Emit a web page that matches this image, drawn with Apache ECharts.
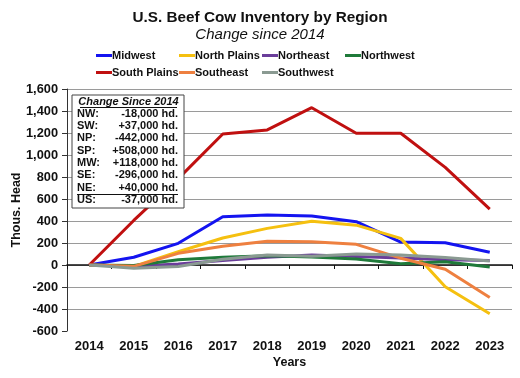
<!DOCTYPE html>
<html>
<head>
<meta charset="utf-8">
<script src="https://cdn.jsdelivr.net/npm/echarts@6/dist/echarts.min.js"></script>
<style>html,body{margin:0;padding:0;background:#fff;}#c{width:520px;height:378px;}</style>
</head>
<body>
<div id="c"></div>
<script>
var years = ['2014','2015','2016','2017','2018','2019','2020','2021','2022','2023'];
var midwest      = [0, 70, 197, 439, 455, 445, 394, 208, 203, 116];
var northPlains  = [0, -12, 120, 245, 333, 398, 362, 242, -197, -443];
var northeast    = [0, -12, 10, 40, 70, 91, 78, 63, 48, 40];
var northwest    = [0, -5, 48, 70, 85, 72, 55, 12, 30, -18];
var southPlains  = [0, 405, 785, 1191, 1228, 1430, 1198, 1198, 888, 508];
var southeast    = [0, -12, 106, 170, 216, 212, 188, 62, -39, -296];
var southwest    = [0, -30, -14, 52, 90, 80, 100, 90, 68, 37];
var yTicks = { min: -600, max: 1600, step: 200 };
var boxTitle = 'Change Since 2014';
var boxKeys = ['NW:', 'SW:', 'NP:', 'SP:', 'MW:', 'SE:', 'NE:', 'US:'];
var boxVals = ['-18,000 hd.', '+37,000 hd.', '-442,000 hd.', '+508,000 hd.', '+118,000 hd.', '-296,000 hd.', '+40,000 hd.', '-37,000 hd.'];

var FONT = 'Arial, "Liberation Sans", sans-serif';
var names = ['Midwest','North Plains','Northeast','Northwest','South Plains','Southeast','Southwest'];
var datas = [midwest, northPlains, northeast, northwest, southPlains, southeast, southwest];
var colors = ['#1414f0','#f5c010','#6a3d9a','#1f7a3a','#c01010','#ee8040','#8a9a92'];
var legendPos = [[96,50],[179,50],[262,50],[345,50],[96,67],[179,67],[262,67]];

var series = names.map(function(n,i){
  return {
    name: n, type: 'line', data: datas[i], xAxisIndex: 0,
    symbol: 'none', smooth: false,
    lineStyle: { width: 3, color: colors[i] },
    itemStyle: { color: colors[i] },
    z: 2 + i
  };
});

var legends = names.map(function(n,i){
  return {
    data: [n], left: legendPos[i][0], top: legendPos[i][1],
    icon: 'rect', itemWidth: 16, itemHeight: 3, itemGap: 0,
    padding: 0,
    textStyle: { fontFamily: FONT, fontWeight: 'bold', fontSize: 11, color: '#111', padding: [0,0,0,-5] },
    selectedMode: false
  };
});

var gl = [];
var boxL = 72, boxT = 95, boxR = 184, boxB = 208;
gl.push({ type: 'rect', shape: { x: boxL, y: boxT, width: boxR - boxL, height: boxB - boxT },
  style: { fill: '#fff', stroke: '#444', lineWidth: 1 }, z: 100 });
gl.push({ type: 'text', z: 101, x: 128.5, y: 96.5,
  style: { text: boxTitle, textAlign: 'center', font: 'italic bold 11px ' + FONT, fill: '#111' } });
gl.push({ type: 'line', z: 101, shape: { x1: 80, y1: 107.5, x2: 177, y2: 107.5 }, style: { stroke: '#111', lineWidth: 1 } });
for (var k = 0; k < boxKeys.length; k++) {
  var yy = 108 + k * 12.35;
  gl.push({ type: 'text', z: 101, x: 77, y: yy, style: { text: boxKeys[k], font: 'bold 11px ' + FONT, fill: '#111' } });
  gl.push({ type: 'text', z: 101, x: 178, y: yy, style: { text: boxVals[k], textAlign: 'right', font: 'bold 11px ' + FONT, fill: '#111' } });
}
gl.push({ type: 'line', z: 101, shape: { x1: 77, y1: 194.5, x2: 178, y2: 194.5 }, style: { stroke: '#111', lineWidth: 1 } });

var option = {
  animation: false,
  backgroundColor: '#fff',
  title: [
    { text: 'U.S. Beef Cow Inventory by Region', left: 'center', top: 5,
      textStyle: { fontFamily: FONT, fontWeight: 'bold', fontSize: 15.3, color: '#111' } },
    { text: 'Change since 2014', left: 'center', top: 22,
      textStyle: { fontFamily: FONT, fontStyle: 'italic', fontWeight: 'normal', fontSize: 15, color: '#111' } }
  ],
  legend: legends,
  grid: { left: 67, right: 8, top: 89, bottom: 47, containLabel: false, outerBoundsMode: 'none' },
  xAxis: [
    { type: 'category', data: years, boundaryGap: true, position: 'bottom',
      axisLine: { show: false, onZero: false }, axisTick: { show: false },
      axisLabel: { fontFamily: FONT, fontWeight: 'bold', fontSize: 13, color: '#111', margin: 9 },
      name: 'Years', nameLocation: 'middle', nameGap: 25, nameMoveOverlap: false,
      nameTextStyle: { fontFamily: FONT, fontWeight: 'bold', fontSize: 12.5, color: '#111' },
      splitLine: { show: false } },
    { type: 'category', data: years, boundaryGap: true, position: 'bottom',
      axisLine: { show: true, onZero: true, lineStyle: { color: '#111', width: 1.5 } },
      axisTick: { show: true, interval: 0, length: 4, lineStyle: { color: '#111' } },
      axisLabel: { show: false }, splitLine: { show: false } }
  ],
  yAxis: {
    type: 'value', min: yTicks.min, max: yTicks.max, interval: yTicks.step,
    axisLine: { show: true, lineStyle: { color: '#333', width: 1 } },
    axisTick: { show: true, length: 5, lineStyle: { color: '#333' } },
    axisLabel: { fontFamily: FONT, fontWeight: 'bold', fontSize: 12.8, color: '#111', margin: 9,
      formatter: function(v){ return v.toLocaleString('en-US'); } },
    splitLine: { show: true, showMinLine: false, lineStyle: { color: '#9a9a9a', width: 1 } },
    name: 'Thous. Head', nameLocation: 'middle', nameGap: 44, nameRotate: 90, nameMoveOverlap: false,
    nameTextStyle: { fontFamily: FONT, fontWeight: 'bold', fontSize: 12.5, color: '#111' }
  },
  series: series,
  graphic: gl
};
var chart = echarts.init(document.getElementById('c'), null, { renderer: 'canvas' });
chart.setOption(option);
</script>
</body>
</html>
